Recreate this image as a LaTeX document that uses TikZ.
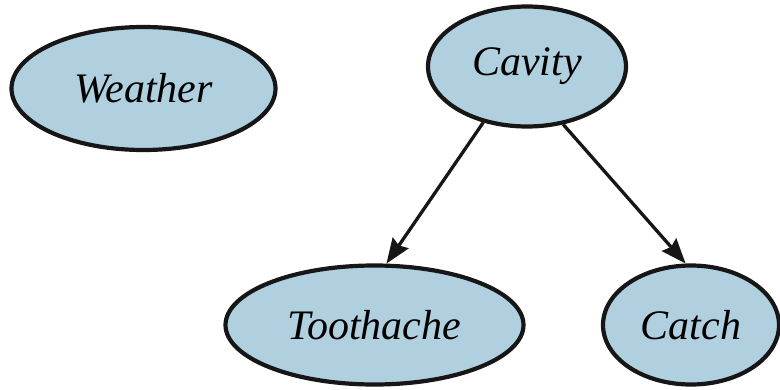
\documentclass[tikz,border=0pt]{standalone}
\usepackage{fontspec}
\setmainfont{Liberation Serif}
\usetikzlibrary{shapes.geometric,arrows.meta}
\definecolor{nodefill}{RGB}{176,208,224}
\definecolor{inkline}{RGB}{22,22,22}
\tikzset{
  varnode/.style={ellipse, draw=inkline, fill=nodefill, line width=4.2pt,
    inner sep=0pt, font=\fontsize{42}{48}\selectfont\itshape},
  influence/.style={draw=inkline, line width=3.3pt,
    -{Stealth[length=25pt,width=19pt,inset=3pt]}}
}
\begin{document}
\begin{tikzpicture}[x=1pt,y=-1pt]
  \useasboundingbox (0,0) rectangle (780,389);
  % random variables
  \node[varnode, minimum width=264pt, minimum height=123pt] (weather) at (143.5,88.5) {Weather};
  \node[varnode, minimum width=198pt, minimum height=120pt] (cavity) at (527,66.5) {Cavity};
  \node[varnode, minimum width=298pt, minimum height=119pt] (toothache) at (374.5,325) {Toothache};
  \node[varnode, minimum width=176pt, minimum height=119pt] (catch) at (691,325) {Catch};
  % dependencies
  \draw[influence] (cavity.232) -- (toothache.79);
  \draw[influence] (cavity.302) -- (catch.95);
\end{tikzpicture}
\end{document}
